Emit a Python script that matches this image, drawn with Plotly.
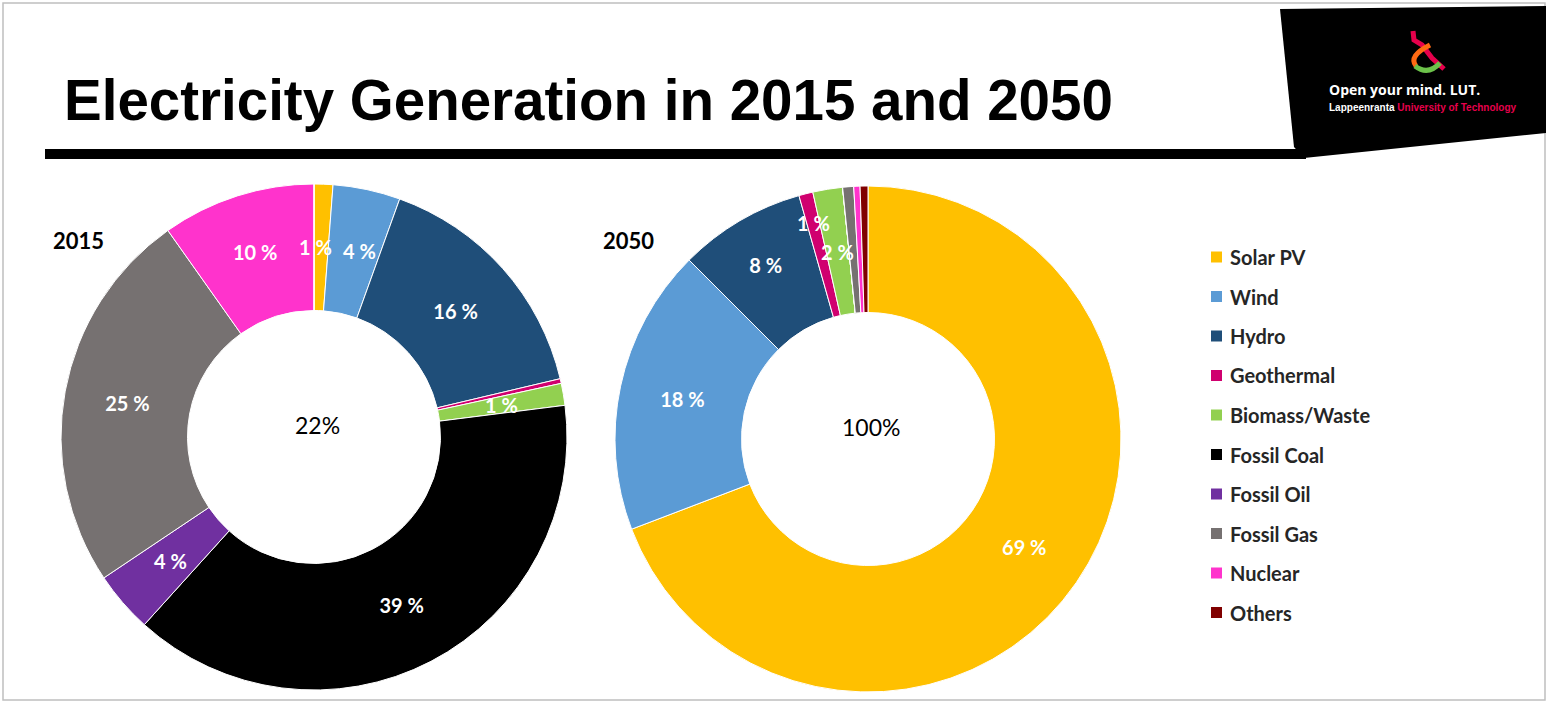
import math
import plotly.graph_objects as go

# ---------------- data ----------------
categories = ["Solar PV", "Wind", "Hydro", "Geothermal", "Biomass/Waste",
              "Fossil Coal", "Fossil Oil", "Fossil Gas", "Nuclear", "Others"]
share_2015 = [1.2, 4.3, 15.8, 0.3, 1.4, 38.7, 3.9, 24.6, 9.8, 0.0]
share_2050 = [69.2, 18.3, 8.1, 0.9, 1.9, 0.0, 0.0, 0.7, 0.4, 0.5]
colors = ["#FFC000", "#5B9BD5", "#1F4E79", "#D0006F", "#92D050",
          "#000000", "#7030A0", "#767171", "#FF33CC", "#800000"]
years = ["2015", "2050"]
center_labels = ["22%", "100%"]
title_text = "Electricity Generation in 2015 and 2050"

W, H = 1548, 704


def X(px):
    return px / W


def Y(py):
    return 1 - py / H


LABEL_FONT = "Lato, 'Open Sans', sans-serif"
MIN_LABEL = 0.8      # slices below this share carry no label
SMALL = 5.0          # labels of slices below this share are placed at mid-angle
HOLE = 0.5
LABEL_W, LABEL_H = 44, 22   # approximate footprint of a "n %" label, for spacing

fig = go.Figure()
shapes = []
annotations = []

pies = [
    (share_2015, (314, 437), 253),
    (share_2050, (868, 439), 253),
]
for vals, (cx, cy), r in pies:
    tmpl = ["%{value:.0f} %" if (v >= SMALL) else "" for v in vals]
    fig.add_trace(go.Pie(
        labels=categories,
        values=vals,
        sort=False,
        direction="clockwise",
        rotation=0,
        hole=HOLE,
        marker=dict(colors=colors, line=dict(color="white", width=1)),
        texttemplate=tmpl,
        textposition="inside",
        insidetextorientation="horizontal",
        textfont=dict(color="white", size=20, family=LABEL_FONT, weight="bold"),
        domain=dict(x=[X(cx - r), X(cx + r)], y=[Y(cy + r), Y(cy - r)]),
        showlegend=False,
        hoverinfo="label+percent",
    ))
    # labels of thin slices, centred on each slice's mid-angle
    total = sum(vals)
    labelled = [i for i, v in enumerate(vals) if v >= MIN_LABEL]
    cum = 0.0
    mids = {}
    for i, v in enumerate(vals):
        mids[i] = (cum + v / 2) / total
        cum += v
    small_labels = []
    for k, i in enumerate(labelled):
        v = vals[i]
        if v >= SMALL:
            continue
        nxt = labelled[k + 1] if k + 1 < len(labelled) else None
        crowded = nxt is not None and vals[nxt] < SMALL and (mids[nxt] - mids[i]) < 0.02
        frac = 0.88 if crowded else (1 + HOLE) / 2
        ang = 2 * math.pi * mids[i]
        small_labels.append([cx + frac * r * math.sin(ang),
                             cy - frac * r * math.cos(ang),
                             "{:.0f} %".format(v)])
    # push apart neighbouring labels that would collide
    for a, b in zip(small_labels, small_labels[1:]):
        dx, dy = b[0] - a[0], b[1] - a[1]
        if abs(dy) < LABEL_H and abs(dx) < LABEL_W:
            shift = (LABEL_W - abs(dx)) / 2 * (1 if dx >= 0 else -1)
            a[0] -= shift
            b[0] += shift
    for px, py, txt in small_labels:
        annotations.append(dict(x=X(px), y=Y(py), xref="paper", yref="paper",
                                xanchor="center", yanchor="middle",
                                text=txt, showarrow=False,
                                font=dict(color="white", size=20, family=LABEL_FONT, weight="bold")))

# slide border
shapes.append(dict(type="rect", xref="paper", yref="paper",
                   x0=X(3), x1=X(1545), y0=Y(700), y1=Y(3),
                   line=dict(color="#BFBFBF", width=1.5), fillcolor="rgba(0,0,0,0)"))
# title underline
shapes.append(dict(type="rect", xref="paper", yref="paper",
                   x0=X(45), x1=X(1306), y0=Y(159), y1=Y(149),
                   line=dict(width=0), fillcolor="black"))
# logo block
path = "M {} {} L {} {} L {} {} L {} {} L {} {} Z".format(
    X(1280), Y(9), X(1546), Y(6), X(1546), Y(133), X(1304), Y(158), X(1294), Y(147))
shapes.append(dict(type="path", xref="paper", yref="paper", path=path,
                   line=dict(width=0), fillcolor="black"))


def pth(points, curve=False):
    s = "M {} {}".format(X(points[0][0]), Y(points[0][1]))
    if curve:
        s += " Q {} {} {} {}".format(X(points[1][0]), Y(points[1][1]), X(points[2][0]), Y(points[2][1]))
        for p in points[3:]:
            s += " L {} {}".format(X(p[0]), Y(p[1]))
    else:
        for p in points[1:]:
            s += " L {} {}".format(X(p[0]), Y(p[1]))
    return s


# "&" logo mark
shapes.append(dict(type="path", xref="paper", yref="paper",
                   path=pth([(1413, 31), (1414, 40), (1422, 45), (1432, 58), (1444, 69)]),
                   line=dict(color="#E6004C", width=5)))
shapes.append(dict(type="path", xref="paper", yref="paper",
                   path=pth([(1430, 45), (1408, 56), (1416, 66)], curve=True),
                   line=dict(color="#FF6A13", width=5)))
shapes.append(dict(type="path", xref="paper", yref="paper",
                   path=pth([(1415, 66), (1428, 76), (1440, 63)], curve=True),
                   line=dict(color="#6CC24A", width=5)))

# title
annotations.append(dict(
    x=X(62), y=Y(101), xref="paper", yref="paper", xanchor="left", yanchor="middle",
    text=title_text, showarrow=False,
    font=dict(family="'Liberation Sans', Arial, sans-serif",
              size=56.5, color="black", weight="bold")))

# logo texts
annotations.append(dict(x=X(1327), y=Y(90), xref="paper", yref="paper",
                        xanchor="left", yanchor="middle",
                        text="Open your mind. LUT.", showarrow=False,
                        font=dict(family="'Open Sans', sans-serif", size=14, color="white", weight="bold")))
annotations.append(dict(x=X(1327), y=Y(107), xref="paper", yref="paper",
                        xanchor="left", yanchor="middle",
                        text="Lappeenranta <span style='color:#E6004C'>University of Technology</span>",
                        showarrow=False,
                        font=dict(family="'Liberation Sans', sans-serif", size=10, color="white", weight="bold")))

# year labels and centre labels
for yr, (vals, (cx, cy), r), xpos, clab in zip(years, pies, [78, 628], center_labels):
    annotations.append(dict(x=X(xpos), y=Y(241), xref="paper", yref="paper",
                            xanchor="center", yanchor="middle",
                            text=yr, showarrow=False,
                            font=dict(family=LABEL_FONT, size=22, color="black", weight="bold")))
    annotations.append(dict(x=X(cx + 3), y=Y(cy - 12), xref="paper", yref="paper",
                            xanchor="center", yanchor="middle",
                            text=clab, showarrow=False,
                            font=dict(family=LABEL_FONT, size=23, color="black")))

# manual legend
leg_y0, leg_dy = 257, 39.5
for i, (cat, col) in enumerate(zip(categories, colors)):
    yc = leg_y0 + i * leg_dy
    shapes.append(dict(type="rect", xref="paper", yref="paper",
                       x0=X(1211), x1=X(1222), y0=Y(yc + 5.5), y1=Y(yc - 5.5),
                       line=dict(width=0), fillcolor=col))
    annotations.append(dict(x=X(1228), y=Y(yc), xref="paper", yref="paper",
                            xanchor="left", yanchor="middle", text=cat, showarrow=False,
                            font=dict(family=LABEL_FONT, size=20, color="#262626", weight="bold")))

fig.update_layout(
    width=W, height=H,
    margin=dict(l=0, r=0, t=0, b=0),
    paper_bgcolor="white",
    plot_bgcolor="white",
    shapes=shapes,
    annotations=annotations,
    uniformtext=dict(minsize=20, mode="show"),
    showlegend=False,
)

fig.write_html("out.html")
